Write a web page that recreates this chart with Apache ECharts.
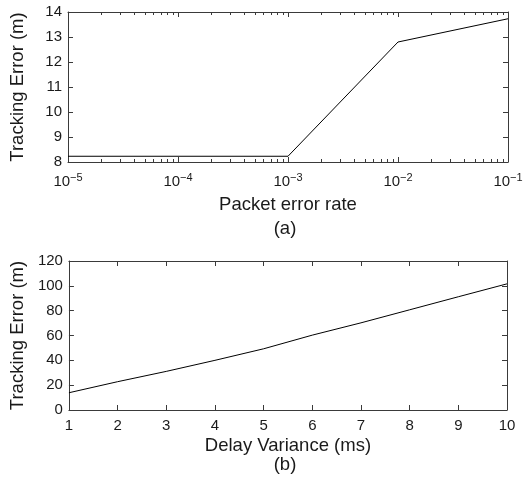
<!DOCTYPE html>
<html><head><meta charset="utf-8">
<script src="https://cdn.jsdelivr.net/npm/echarts@6/dist/echarts.min.js"></script>
<style>html,body{margin:0;padding:0;background:#fff}#c{width:527px;height:487px}</style>
</head><body><div id="c"></div>
<script>
// Panel (a)
const packetErrorRates = [1e-5, 1e-4, 1e-3, 1e-2, 1e-1];
const trackingErrorA = [8.23, 8.23, 8.23, 12.8, 13.73];
// Panel (b)
const delayVariance = [1, 2, 3, 4, 5, 6, 7, 8, 9, 10];
const trackingErrorB = [13.9, 22.8, 31.1, 40.0, 49.3, 60.3, 70.2, 80.7, 91.2, 101.6];
// Axis ranges
const xRangeA = [1e-5, 1e-1];
const yRangeA = [8, 14, 1];
const xRangeB = [1, 10, 1];
const yRangeB = [0, 120, 20];
const labelsText = { a: '(a)', b: '(b)', xA: 'Packet error rate', xB: 'Delay Variance (ms)', y: 'Tracking Error (m)' };

const FONT = 'Liberation Sans, Arial, Helvetica, sans-serif';
const INK = '#1a1a1a';
const AX = '#3a3a3a';
const NAME_SIZE = 18.5;

function baseAxis(extra) {
  return Object.assign({
    axisLine: { show: true, onZero: false, lineStyle: { color: AX, width: 1 } },
    axisTick: { show: true, inside: true, length: 5, lineStyle: { color: AX, width: 1 } },
    splitLine: { show: false },
    axisLabel: { color: INK, fontFamily: FONT, fontSize: 15 },
    nameTextStyle: { color: INK, fontFamily: FONT, fontSize: NAME_SIZE }
  }, extra);
}

function supFormatter(v) {
  const e = Math.round(Math.log10(v));
  const s = e < 0 ? '\u2212' + (-e) : String(e);
  return '10{s|' + s + '}';
}

function logX(pos, showLabels) {
  return baseAxis({
    gridIndex: 0, type: 'log', logBase: 10, position: pos,
    min: xRangeA[0], max: xRangeA[1],
    minorTick: { show: true, splitNumber: 9, length: 3, lineStyle: { color: AX, width: 1 } },
    axisLabel: showLabels ? {
      show: true, color: INK, fontFamily: FONT, fontSize: 15, margin: 10,
      formatter: supFormatter,
      rich: { s: { fontSize: 11, fontFamily: FONT, color: INK, padding: [0, 0, 9, 0] } }
    } : { show: false },
    name: showLabels ? labelsText.xA : '', nameLocation: 'middle', nameGap: 33
  });
}

const option = {
  animation: false,
  backgroundColor: '#fff',
  grid: [
    { left: 63, right: 19, top: 12, height: 150 },
    { left: 63, right: 20, top: 261, height: 149 }
  ],
  xAxis: [
    logX('bottom', true),
    logX('top', false),
    baseAxis({ gridIndex: 1, type: 'value', position: 'bottom', min: xRangeB[0], max: xRangeB[1], interval: xRangeB[2],
      axisLabel: { color: INK, fontFamily: FONT, fontSize: 15, margin: 8 },
      name: labelsText.xB, nameLocation: 'middle', nameGap: 26 }),
    baseAxis({ gridIndex: 1, type: 'value', position: 'top', min: xRangeB[0], max: xRangeB[1], interval: xRangeB[2],
      axisLabel: { show: false } })
  ],
  yAxis: [
    baseAxis({ gridIndex: 0, type: 'value', position: 'left', min: yRangeA[0], max: yRangeA[1], interval: yRangeA[2],
      axisLabel: { color: INK, fontFamily: FONT, fontSize: 15, margin: 6 },
      name: labelsText.y, nameLocation: 'middle', nameGap: 41 }),
    baseAxis({ gridIndex: 0, type: 'value', position: 'right', min: yRangeA[0], max: yRangeA[1], interval: yRangeA[2],
      axisLabel: { show: false } }),
    baseAxis({ gridIndex: 1, type: 'value', position: 'left', min: yRangeB[0], max: yRangeB[1], interval: yRangeB[2],
      axisLabel: { color: INK, fontFamily: FONT, fontSize: 15, margin: 6 },
      name: labelsText.y, nameLocation: 'middle', nameGap: 41 }),
    baseAxis({ gridIndex: 1, type: 'value', position: 'right', min: yRangeB[0], max: yRangeB[1], interval: yRangeB[2],
      axisLabel: { show: false } })
  ],
  series: [
    { type: 'line', xAxisIndex: 0, yAxisIndex: 0, symbol: 'none', silent: true,
      lineStyle: { color: '#000', width: 1 },
      data: packetErrorRates.map((x, i) => [x, trackingErrorA[i]]) },
    { type: 'line', xAxisIndex: 2, yAxisIndex: 2, symbol: 'none', silent: true,
      lineStyle: { color: '#000', width: 1 },
      data: delayVariance.map((x, i) => [x, trackingErrorB[i]]) }
  ],
  graphic: [
    { type: 'text', x: 285, y: 229, style: { text: labelsText.a, fill: INK, font: NAME_SIZE + 'px ' + FONT, textAlign: 'center', textVerticalAlign: 'middle' } },
    { type: 'text', x: 285, y: 465, style: { text: labelsText.b, fill: INK, font: NAME_SIZE + 'px ' + FONT, textAlign: 'center', textVerticalAlign: 'middle' } }
  ]
};
const chart = echarts.init(document.getElementById('c'), null, { renderer: 'canvas' });
chart.setOption(option);
</script></body></html>
